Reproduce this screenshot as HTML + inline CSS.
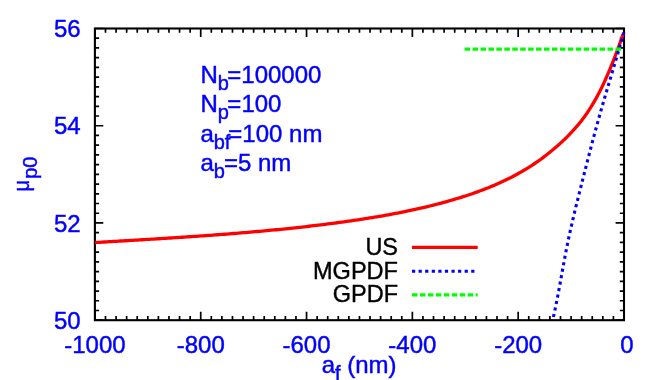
<!DOCTYPE html>
<html><head><meta charset="utf-8"><title>plot</title>
<style>
html,body{margin:0;padding:0;background:#fff}
svg{display:block;will-change:transform}
text{font-family:"Liberation Sans",Arial,Helvetica,sans-serif;font-size:24px}
.b{fill:#0000ff;stroke:#0000ff;stroke-width:0.45px}
.k{fill:#000;stroke:#000;stroke-width:0.4px}
.s{font-size:20px}
</style></head><body>
<svg width="664" height="380" viewBox="0 0 664 380">
<path d="M94.90,320.20v-8.40M94.90,28.50v8.40M105.48,320.20v-4.20M105.48,28.50v4.20M116.06,320.20v-4.20M116.06,28.50v4.20M126.65,320.20v-4.20M126.65,28.50v4.20M137.23,320.20v-4.20M137.23,28.50v4.20M147.81,320.20v-4.20M147.81,28.50v4.20M158.39,320.20v-4.20M158.39,28.50v4.20M168.97,320.20v-4.20M168.97,28.50v4.20M179.56,320.20v-4.20M179.56,28.50v4.20M190.14,320.20v-4.20M190.14,28.50v4.20M200.72,320.20v-8.40M200.72,28.50v8.40M211.30,320.20v-4.20M211.30,28.50v4.20M221.88,320.20v-4.20M221.88,28.50v4.20M232.47,320.20v-4.20M232.47,28.50v4.20M243.05,320.20v-4.20M243.05,28.50v4.20M253.63,320.20v-4.20M253.63,28.50v4.20M264.21,320.20v-4.20M264.21,28.50v4.20M274.79,320.20v-4.20M274.79,28.50v4.20M285.38,320.20v-4.20M285.38,28.50v4.20M295.96,320.20v-4.20M295.96,28.50v4.20M306.54,320.20v-8.40M306.54,28.50v8.40M317.12,320.20v-4.20M317.12,28.50v4.20M327.70,320.20v-4.20M327.70,28.50v4.20M338.29,320.20v-4.20M338.29,28.50v4.20M348.87,320.20v-4.20M348.87,28.50v4.20M359.45,320.20v-4.20M359.45,28.50v4.20M370.03,320.20v-4.20M370.03,28.50v4.20M380.61,320.20v-4.20M380.61,28.50v4.20M391.20,320.20v-4.20M391.20,28.50v4.20M401.78,320.20v-4.20M401.78,28.50v4.20M412.36,320.20v-8.40M412.36,28.50v8.40M422.94,320.20v-4.20M422.94,28.50v4.20M433.52,320.20v-4.20M433.52,28.50v4.20M444.11,320.20v-4.20M444.11,28.50v4.20M454.69,320.20v-4.20M454.69,28.50v4.20M465.27,320.20v-4.20M465.27,28.50v4.20M475.85,320.20v-4.20M475.85,28.50v4.20M486.43,320.20v-4.20M486.43,28.50v4.20M497.02,320.20v-4.20M497.02,28.50v4.20M507.60,320.20v-4.20M507.60,28.50v4.20M518.18,320.20v-8.40M518.18,28.50v8.40M528.76,320.20v-4.20M528.76,28.50v4.20M539.34,320.20v-4.20M539.34,28.50v4.20M549.93,320.20v-4.20M549.93,28.50v4.20M560.51,320.20v-4.20M560.51,28.50v4.20M571.09,320.20v-4.20M571.09,28.50v4.20M581.67,320.20v-4.20M581.67,28.50v4.20M592.25,320.20v-4.20M592.25,28.50v4.20M602.84,320.20v-4.20M602.84,28.50v4.20M613.42,320.20v-4.20M613.42,28.50v4.20M624.00,320.20v-8.40M624.00,28.50v8.40M94.90,320.20h8.40M624.00,320.20h-8.40M94.90,310.48h4.20M624.00,310.48h-4.20M94.90,300.75h4.20M624.00,300.75h-4.20M94.90,291.03h4.20M624.00,291.03h-4.20M94.90,281.31h4.20M624.00,281.31h-4.20M94.90,271.58h4.20M624.00,271.58h-4.20M94.90,261.86h4.20M624.00,261.86h-4.20M94.90,252.14h4.20M624.00,252.14h-4.20M94.90,242.41h4.20M624.00,242.41h-4.20M94.90,232.69h4.20M624.00,232.69h-4.20M94.90,222.97h8.40M624.00,222.97h-8.40M94.90,213.24h4.20M624.00,213.24h-4.20M94.90,203.52h4.20M624.00,203.52h-4.20M94.90,193.80h4.20M624.00,193.80h-4.20M94.90,184.07h4.20M624.00,184.07h-4.20M94.90,174.35h4.20M624.00,174.35h-4.20M94.90,164.63h4.20M624.00,164.63h-4.20M94.90,154.90h4.20M624.00,154.90h-4.20M94.90,145.18h4.20M624.00,145.18h-4.20M94.90,135.46h4.20M624.00,135.46h-4.20M94.90,125.73h8.40M624.00,125.73h-8.40M94.90,116.01h4.20M624.00,116.01h-4.20M94.90,106.29h4.20M624.00,106.29h-4.20M94.90,96.56h4.20M624.00,96.56h-4.20M94.90,86.84h4.20M624.00,86.84h-4.20M94.90,77.12h4.20M624.00,77.12h-4.20M94.90,67.39h4.20M624.00,67.39h-4.20M94.90,57.67h4.20M624.00,57.67h-4.20M94.90,47.95h4.20M624.00,47.95h-4.20M94.90,38.22h4.20M624.00,38.22h-4.20M94.90,28.50h8.40M624.00,28.50h-8.40" fill="none" stroke="#000" stroke-width="1.7"/>
<rect x="94.9" y="28.5" width="529.10" height="291.70" fill="none" stroke="#000" stroke-width="2.1"/>
<path d="M95.01,242.57 L97.36,242.43 L99.71,242.29 L102.06,242.15 L104.42,242.00 L106.77,241.86 L109.12,241.72 L111.48,241.58 L113.83,241.44 L116.19,241.30 L118.54,241.16 L120.89,241.02 L123.25,240.88 L125.60,240.74 L127.96,240.60 L130.31,240.46 L132.66,240.32 L135.02,240.17 L137.37,240.03 L139.73,239.89 L142.08,239.75 L144.44,239.61 L146.79,239.46 L149.15,239.32 L151.50,239.17 L153.86,239.03 L156.21,238.88 L158.56,238.74 L160.92,238.59 L163.27,238.44 L165.63,238.30 L167.98,238.15 L170.34,238.00 L172.69,237.85 L175.05,237.70 L177.40,237.54 L179.76,237.39 L182.11,237.24 L184.46,237.08 L186.82,236.92 L189.17,236.77 L191.53,236.61 L193.88,236.45 L196.23,236.29 L198.59,236.12 L200.94,235.96 L203.30,235.79 L205.65,235.63 L208.00,235.46 L210.36,235.29 L212.71,235.12 L215.06,234.94 L217.42,234.77 L219.77,234.59 L222.12,234.41 L224.47,234.23 L226.83,234.05 L229.18,233.87 L231.53,233.68 L233.88,233.50 L236.23,233.31 L238.58,233.12 L240.94,232.92 L243.29,232.73 L245.64,232.53 L247.99,232.33 L250.34,232.13 L252.69,231.92 L255.04,231.72 L257.39,231.51 L259.74,231.30 L262.09,231.08 L264.44,230.87 L266.78,230.65 L269.13,230.43 L271.48,230.21 L273.83,229.98 L276.18,229.75 L278.52,229.52 L280.87,229.29 L283.22,229.05 L285.56,228.81 L287.91,228.57 L290.26,228.32 L292.60,228.08 L294.95,227.83 L297.29,227.57 L299.64,227.31 L301.98,227.05 L304.32,226.79 L306.67,226.52 L309.01,226.26 L311.35,225.98 L313.70,225.71 L316.04,225.43 L318.38,225.14 L320.72,224.86 L323.06,224.57 L325.40,224.28 L327.74,223.98 L330.08,223.68 L332.42,223.38 L334.76,223.07 L337.10,222.76 L339.44,222.44 L341.77,222.13 L344.11,221.80 L346.45,221.48 L348.78,221.15 L351.12,220.81 L353.45,220.47 L355.79,220.13 L358.12,219.78 L360.45,219.43 L362.79,219.07 L365.12,218.71 L367.45,218.35 L369.78,217.97 L372.11,217.59 L374.43,217.21 L376.76,216.82 L379.09,216.43 L381.41,216.03 L383.73,215.62 L386.06,215.21 L388.38,214.79 L390.70,214.36 L393.02,213.93 L395.33,213.49 L397.65,213.04 L399.96,212.59 L402.27,212.12 L404.59,211.66 L406.90,211.18 L409.20,210.70 L411.51,210.20 L413.81,209.71 L416.12,209.20 L418.42,208.68 L420.72,208.16 L423.01,207.63 L425.31,207.08 L427.60,206.53 L429.89,205.98 L432.18,205.41 L434.47,204.83 L436.76,204.24 L439.04,203.65 L441.32,203.04 L443.60,202.43 L445.87,201.80 L448.15,201.17 L450.42,200.52 L452.69,199.87 L454.95,199.20 L457.22,198.52 L459.48,197.84 L461.73,197.14 L463.98,196.42 L466.23,195.70 L468.48,194.96 L470.72,194.21 L472.95,193.44 L475.18,192.66 L477.40,191.87 L479.62,191.06 L481.83,190.24 L484.04,189.40 L486.24,188.54 L488.43,187.67 L490.61,186.78 L492.79,185.88 L494.96,184.96 L497.12,184.02 L499.28,183.06 L501.42,182.08 L503.56,181.08 L505.69,180.07 L507.81,179.03 L509.91,177.98 L512.01,176.91 L514.10,175.81 L516.18,174.70 L518.25,173.56 L520.30,172.41 L522.34,171.23 L524.37,170.04 L526.39,168.82 L528.40,167.58 L530.39,166.33 L532.37,165.05 L534.33,163.75 L536.28,162.43 L538.22,161.08 L540.13,159.72 L542.04,158.33 L543.93,156.93 L545.80,155.50 L547.66,154.05 L549.50,152.58 L551.33,151.09 L553.15,149.58 L554.95,148.06 L556.74,146.51 L558.51,144.94 L560.27,143.35 L562.01,141.74 L563.74,140.12 L565.44,138.47 L567.13,136.81 L568.80,135.12 L570.44,133.42 L572.07,131.69 L573.66,129.95 L575.24,128.18 L576.79,126.40 L578.31,124.59 L579.81,122.77 L581.28,120.92 L582.72,119.06 L584.13,117.18 L585.51,115.27 L586.85,113.35 L588.17,111.41 L589.46,109.45 L590.73,107.47 L591.96,105.48 L593.17,103.46 L594.36,101.44 L595.52,99.40 L596.65,97.34 L597.77,95.27 L598.86,93.19 L599.94,91.09 L600.99,88.98 L602.03,86.87 L603.04,84.74 L604.04,82.60 L605.03,80.45 L606.00,78.29 L606.95,76.13 L607.89,73.96 L608.82,71.78 L609.74,69.59 L610.65,67.40 L611.54,65.20 L612.43,63.01 L613.31,60.80 L614.18,58.60 L615.04,56.39 L615.90,54.18 L616.74,51.97 L617.57,49.75 L618.38,47.54 L619.19,45.33 L619.98,43.12 L620.76,40.91 L621.52,38.71 L622.27,36.51 L623.00,34.31" fill="none" stroke="#ff0000" stroke-width="3.3" stroke-linejoin="round"/>
<path d="M623.94,32.31L623.09,35.29M622.14,38.63L621.28,41.61M620.30,44.95L619.44,47.93M618.45,51.28L617.58,54.25M616.58,57.60L615.70,60.58M614.70,63.94L613.82,66.91M612.82,70.27L611.93,73.24M610.93,76.61L610.04,79.58M609.04,82.95L608.16,85.93M607.16,89.30L606.28,92.28M605.29,95.65L604.42,98.63M603.44,102.01L602.58,104.99M601.61,108.37L600.76,111.35M599.80,114.73L598.96,117.71M598.02,121.09L597.20,124.08M596.28,127.47L595.46,130.46M594.55,133.84L593.75,136.83M592.85,140.22L592.06,143.22M591.17,146.60L590.39,149.60M589.51,152.99L588.73,155.99M587.86,159.38L587.09,162.38M586.22,165.78L585.46,168.78M584.59,172.18L583.83,175.18M582.97,178.58L582.20,181.59M581.34,184.99L580.58,188.00M579.73,191.40L578.97,194.41M578.12,197.82L577.37,200.83M576.53,204.24L575.79,207.25M574.97,210.66L574.24,213.68M573.43,217.09L572.72,220.11M571.93,223.52L571.24,226.54M570.47,229.95L569.80,232.98M569.06,236.39L568.42,239.42M567.70,242.84L567.09,245.87M566.41,249.28L565.81,252.32M565.16,255.73L564.59,258.78M563.95,262.19L563.39,265.24M562.77,268.65L562.22,271.70M561.60,275.12L561.05,278.17M560.43,281.59L559.87,284.64M559.24,288.06L558.67,291.11M558.03,294.54L557.44,297.58M556.77,301.02L556.16,304.06M555.46,307.51L554.83,310.55M554.08,314.01L553.42,317.03" fill="none" stroke="#0000ff" stroke-width="3.1"/>
<path d="M464.6,49.15H622" fill="none" stroke="#00ff00" stroke-width="3.1" stroke-dasharray="5.5 2.44"/>
<path d="M412,247.4H477.7" stroke="#ff0000" stroke-width="3.1"/>
<path d="M412,271.3H477.7" stroke="#0000ff" stroke-width="3.1" stroke-dasharray="3.2 3.38"/>
<path d="M412,294.9H477.6" stroke="#00ff00" stroke-width="3.1" stroke-dasharray="5.5 2.45"/>
<g class="b"><text x="94.90" y="352.7" text-anchor="middle">-1000</text><text x="200.72" y="352.7" text-anchor="middle">-800</text><text x="306.54" y="352.7" text-anchor="middle">-600</text><text x="412.36" y="352.7" text-anchor="middle">-400</text><text x="518.18" y="352.7" text-anchor="middle">-200</text><text x="627.00" y="352.7" text-anchor="middle">0</text><text x="80.6" y="328.80" text-anchor="end">50</text><text x="80.6" y="231.57" text-anchor="end">52</text><text x="80.6" y="134.33" text-anchor="end">54</text><text x="80.6" y="37.10" text-anchor="end">56</text>
<text x="200.4" y="82.7">N<tspan class="s" dy="7.2">b</tspan><tspan dy="-7.2" dx="-1.6">=100000</tspan></text>
<text x="200.4" y="112.1">N<tspan class="s" dy="7.2">p</tspan><tspan dy="-7.2" dx="-1.5">=100</tspan></text>
<text x="200.4" y="141.6">a<tspan class="s" dy="7.2">bf</tspan><tspan dy="-7.2" dx="-2.1">=100 nm</tspan></text>
<text x="200.4" y="171.0">a<tspan class="s" dy="7.2">b</tspan><tspan dy="-7.2" dx="-0.9">=5 nm</tspan></text>
<text x="359.1" y="373.2" text-anchor="middle">a<tspan class="s" dy="7.2">f</tspan><tspan dy="-7.2"> (nm)</tspan></text>
<g transform="translate(29.6,174.4) rotate(-90)"><text transform="translate(-17.1,-0.4) scale(0.84,0.9)">μ</text><text class="s" x="-4.4" y="6.9">p0</text></g>
</g>
<g class="k">
<text x="398" y="254.6" text-anchor="end" textLength="32.6" lengthAdjust="spacingAndGlyphs">US</text>
<text x="398" y="278.8" text-anchor="end" textLength="85" lengthAdjust="spacingAndGlyphs">MGPDF</text>
<text x="398" y="302.2" text-anchor="end" textLength="65.2" lengthAdjust="spacingAndGlyphs">GPDF</text>
</g>
</svg>
</body></html>
